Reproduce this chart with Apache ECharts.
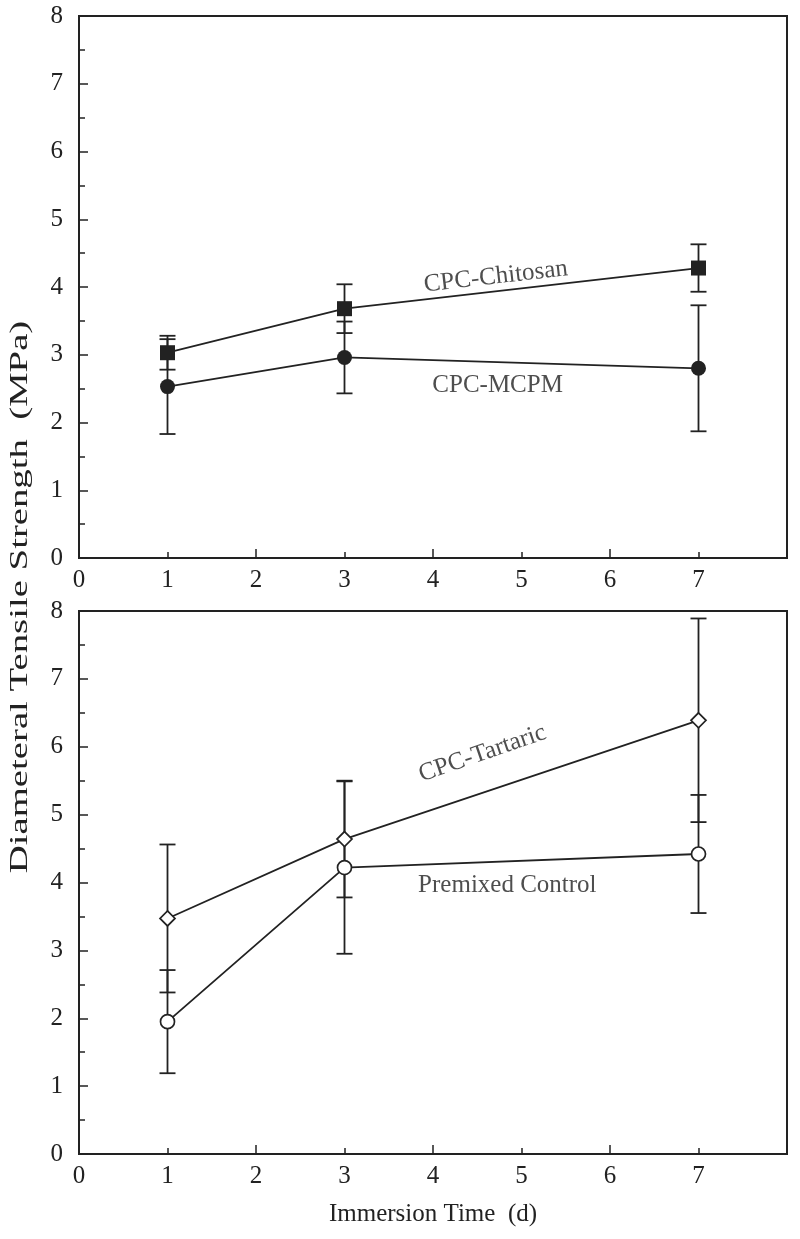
<!DOCTYPE html>
<html>
<head>
<meta charset="utf-8">
<script src="https://cdn.jsdelivr.net/npm/echarts@6/dist/echarts.min.js"></script>
<style>
html,body{margin:0;padding:0;background:#fff;}
#chart{width:800px;height:1239px;}
</style>
</head>
<body>
<div id="chart"></div>
<script>
// ---- data ----
const days = [1, 3, 7];
const xTickLabels = ['0','1','2','3','4','5','6','7'];
const yTickLabels = ['0','1','2','3','4','5','6','7','8'];

const chitosanMean = [3.03, 3.68, 4.28];
const chitosanErr  = [0.25, 0.36, 0.35];
const mcpmMean     = [2.53, 2.96, 2.80];
const mcpmErr      = [0.70, 0.53, 0.93];

const tartaricMean = [3.47, 4.64, 6.39];
const tartaricErr  = [1.09, 0.86, 1.50];
const premixedMean = [1.95, 4.22, 4.42];
const premixedErr  = [0.76, 1.27, 0.87];

const seriesNames = ['CPC-Chitosan', 'CPC-MCPM', 'CPC-Tartaric', 'Premixed Control'];
const xTitle = 'Immersion Time  (d)';
const yTitle = 'Diameteral Tensile Strength  (MPa)';

// ---- helpers ----
const INK = '#222';
const FONT = '"Liberation Serif", "Times New Roman", serif';

function pts(mean) { return days.map((d, i) => [d, mean[i]]); }
function errs(mean, err) { return days.map((d, i) => [d, mean[i] - err[i], mean[i] + err[i]]); }

function errRender(params, api) {
  const x = api.value(0);
  const lo = api.coord([x, api.value(1)]);
  const hi = api.coord([x, api.value(2)]);
  const hw = 8;
  const st = { stroke: INK, lineWidth: 1.8 };
  return {
    type: 'group',
    children: [
      { type: 'line', shape: { x1: lo[0], y1: lo[1], x2: hi[0], y2: hi[1] }, style: st },
      { type: 'line', shape: { x1: lo[0] - hw, y1: lo[1], x2: lo[0] + hw, y2: lo[1] }, style: st },
      { type: 'line', shape: { x1: hi[0] - hw, y1: hi[1], x2: hi[0] + hw, y2: hi[1] }, style: st }
    ]
  };
}

const grids = [
  { left: 79, right: 13, top: 16, height: 542 },
  { left: 79, right: 13, top: 611, height: 543 }
];

// tick axis: majors every 2 (long), minors every 1 (short)
function tickX(gi) {
  return {
    type: 'value', gridIndex: gi, position: 'bottom', min: 0, max: 8, interval: 2,
    axisLine: { show: true, onZero: false, lineStyle: { color: INK, width: 2 } },
    axisTick: { show: true, inside: true, length: 9, lineStyle: { color: INK, width: 1.5 } },
    minorTick: { show: true, splitNumber: 2, length: 6, lineStyle: { color: INK, width: 1.5 } },
    axisLabel: { show: false }, splitLine: { show: false }
  };
}
// label axis: labels at every integer
function labelX(gi, withName) {
  return {
    type: 'value', gridIndex: gi, position: 'bottom', min: 0, max: 8, interval: 1,
    axisLine: { show: false, onZero: false }, axisTick: { show: false },
    axisLabel: { show: true, margin: 10, color: INK, fontFamily: FONT, fontSize: 25,
      formatter: v => (v < xTickLabels.length ? xTickLabels[v] : '') },
    splitLine: { show: false },
    name: withName ? xTitle : '',
    nameLocation: 'middle', nameGap: 48,
    nameTextStyle: { color: INK, fontFamily: FONT, fontSize: 25 }
  };
}
function mainY(gi) {
  return {
    type: 'value', gridIndex: gi, position: 'left', min: 0, max: 8, interval: 1,
    axisLine: { show: true, onZero: false, lineStyle: { color: INK, width: 2 } },
    axisTick: { show: true, inside: true, length: 9, lineStyle: { color: INK, width: 1.5 } },
    minorTick: { show: true, splitNumber: 2, length: 6, lineStyle: { color: INK, width: 1.5 } },
    axisLabel: { show: true, margin: 16, color: INK, fontFamily: FONT, fontSize: 25,
      formatter: v => yTickLabels[v] },
    splitLine: { show: false }
  };
}

function lineSeries(name, xi, yi, mean, symbol, size, filled) {
  return {
    name: name, type: 'line', xAxisIndex: xi, yAxisIndex: yi,
    data: pts(mean), symbol: symbol, symbolSize: size, showSymbol: true,
    lineStyle: { color: INK, width: 1.8 },
    itemStyle: { color: filled ? INK : '#fff', borderColor: INK, borderWidth: filled ? 0 : 1.7 },
    z: 5, animation: false
  };
}
function errSeries(xi, yi, mean, err) {
  return {
    type: 'custom', xAxisIndex: xi, yAxisIndex: yi,
    data: errs(mean, err), renderItem: errRender, z: 3, animation: false, silent: true
  };
}
function noteSeries(xi, yi, items) {
  return {
    type: 'scatter', xAxisIndex: xi, yAxisIndex: yi, symbolSize: 0, silent: true, animation: false,
    data: items.map(it => ({ name: it.name, value: it.at,
      label: { show: true, position: 'inside', rotate: it.rot, formatter: '{b}',
        color: INK, fontFamily: FONT, fontSize: 25 } }))
  };
}

const chart = echarts.init(document.getElementById('chart'), null, { renderer: 'canvas' });
chart.setOption({
  backgroundColor: '#fff',
  animation: false,
  grid: grids.map(g => Object.assign({ show: true, borderColor: INK, borderWidth: 2, backgroundColor: 'transparent' }, g)),
  xAxis: [labelX(0, false), labelX(1, true), tickX(0), tickX(1)],
  yAxis: [mainY(0), mainY(1)],
  graphic: [{
    type: 'text', rotation: Math.PI / 2, x: 20, y: 597, scaleX: 1.55,
    style: { text: yTitle, fill: INK, font: '25px ' + FONT, align: 'center', verticalAlign: 'middle' }
  }],
  series: [
    errSeries(0, 0, chitosanMean, chitosanErr),
    errSeries(0, 0, mcpmMean, mcpmErr),
    lineSeries(seriesNames[0], 0, 0, chitosanMean, 'rect', 15, true),
    lineSeries(seriesNames[1], 0, 0, mcpmMean, 'circle', 15, true),
    errSeries(1, 1, tartaricMean, tartaricErr),
    errSeries(1, 1, premixedMean, premixedErr),
    lineSeries(seriesNames[2], 1, 1, tartaricMean, 'diamond', 15, false),
    lineSeries(seriesNames[3], 1, 1, premixedMean, 'circle', 14, false),
    noteSeries(0, 0, [
      { name: seriesNames[0], at: [4.71, 4.15], rot: 6.5 },
      { name: seriesNames[1], at: [4.73, 2.55], rot: 0 }
    ]),
    noteSeries(1, 1, [
      { name: seriesNames[2], at: [4.56, 5.9], rot: 19 },
      { name: seriesNames[3], at: [4.84, 3.96], rot: 0 }
    ])
  ]
});
</script>
</body>
</html>
